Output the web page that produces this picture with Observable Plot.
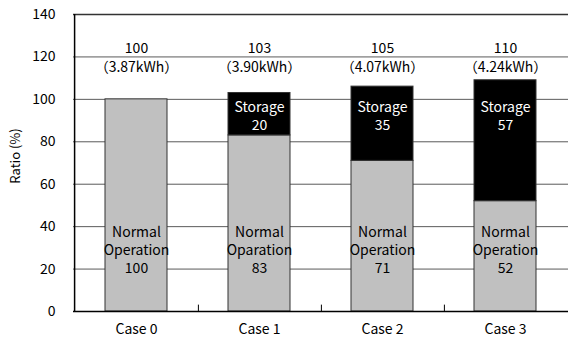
<!DOCTYPE html>
<html>
<head>
<meta charset="utf-8">
<script src="https://cdn.jsdelivr.net/npm/d3@7"></script>
<script src="https://cdn.jsdelivr.net/npm/@observablehq/plot@0.6"></script>
<style>
  html, body { margin: 0; padding: 0; background: #fff; }
  #chart svg { display: block; }
</style>
</head>
<body>
<div id="chart"></div>
<script>
// Energy ratio per case: normal operation vs. storage share (%)
const cases = ["Case 0", "Case 1", "Case 2", "Case 3"];
const normal = [100, 83, 71, 52];
const storage = [0, 20, 35, 57];
const totals = [100, 103, 105, 110];
const energy = ["3.87kWh", "3.90kWh", "4.07kWh", "4.24kWh"];
const normalNames = ["Normal\nOperation", "Normal\nOparation", "Normal\nOperation", "Normal\nOperation"];
const yTicks = [0, 20, 40, 60, 80, 100, 120, 140];

const rows = cases.flatMap((c, i) => [
  {case: c, part: "Normal", value: normal[i]},
  {case: c, part: "Storage", value: storage[i]}
]).filter(d => d.value > 0);

const summary = cases.map((c, i) => ({
  case: c, total: totals[i], energy: energy[i], normal: normal[i], name: normalNames[i], storage: storage[i]
}));

const font = '"Noto Sans CJK JP", "Noto Sans", sans-serif';
const fs = 14;

const chart = Plot.plot({
  width: 568,
  height: 344,
  marginLeft: 73,
  marginRight: 0,
  marginTop: 14,
  marginBottom: 33,
  style: {fontFamily: font, fontSize: fs + "px", color: "#000", background: "#fff"},
  x: {domain: cases, paddingInner: 0.5, paddingOuter: 0.25},
  y: {domain: [0, 140]},
  color: {domain: ["Normal", "Storage"], range: ["#c0c0c0", "#000000"]},
  marks: [
    // horizontal gridlines
    Plot.ruleY(yTicks.filter(t => t > 0 && t < 140), {stroke: "#5a5a5a", strokeWidth: 1}),
    Plot.ruleY([140], {stroke: "#333", strokeWidth: 1.5}),
    // stacked bars
    Plot.barY(rows, {x: "case", y: "value", fill: "part", stroke: "#333", strokeWidth: 1}),
    // axes
    Plot.axisY({ticks: yTicks, tickSize: 0, tickPadding: 18, fontSize: fs, label: null}),
    Plot.axisX({tickSize: 0, tickPadding: 13, fontSize: fs, label: null}),
    Plot.text(["Ratio (%)"], {frameAnchor: "left", textAnchor: "middle", rotate: -90, dx: -58, dy: -7, fontSize: 13}),
    Plot.ruleX([0], {x: () => cases[0], dx: -61.9, y1: 0, y2: 140, stroke: "#000", strokeWidth: 1.5}),
    Plot.ruleY([0], {stroke: "#000", strokeWidth: 1.5}),
    // small separator ticks between categories
    Plot.ruleX(cases.slice(0, 3), {x: d => d, dx: 61.9, y1: 0, y2: 3, stroke: "#000", strokeWidth: 1}),
    // totals above the bars
    Plot.text(summary, {x: "case", y: () => 124, text: d => String(d.total), fontSize: fs}),
    Plot.text(summary, {x: "case", y: () => 115, text: d => `（${d.energy}）`, fontSize: fs}),
    // segment labels
    Plot.text(summary.filter(d => d.storage > 0), {x: "case", y: () => 92.5, text: d => `Storage\n${d.storage}`,
      fill: "#fff", fontSize: fs, lineHeight: 1.3}),
    Plot.text(summary, {x: "case", y: () => 29.5, text: d => `${d.name}\n${d.normal}`,
      fill: "#000", fontSize: fs, lineHeight: 1.3})
  ]
});

document.getElementById("chart").appendChild(chart);
</script>
</body>
</html>
